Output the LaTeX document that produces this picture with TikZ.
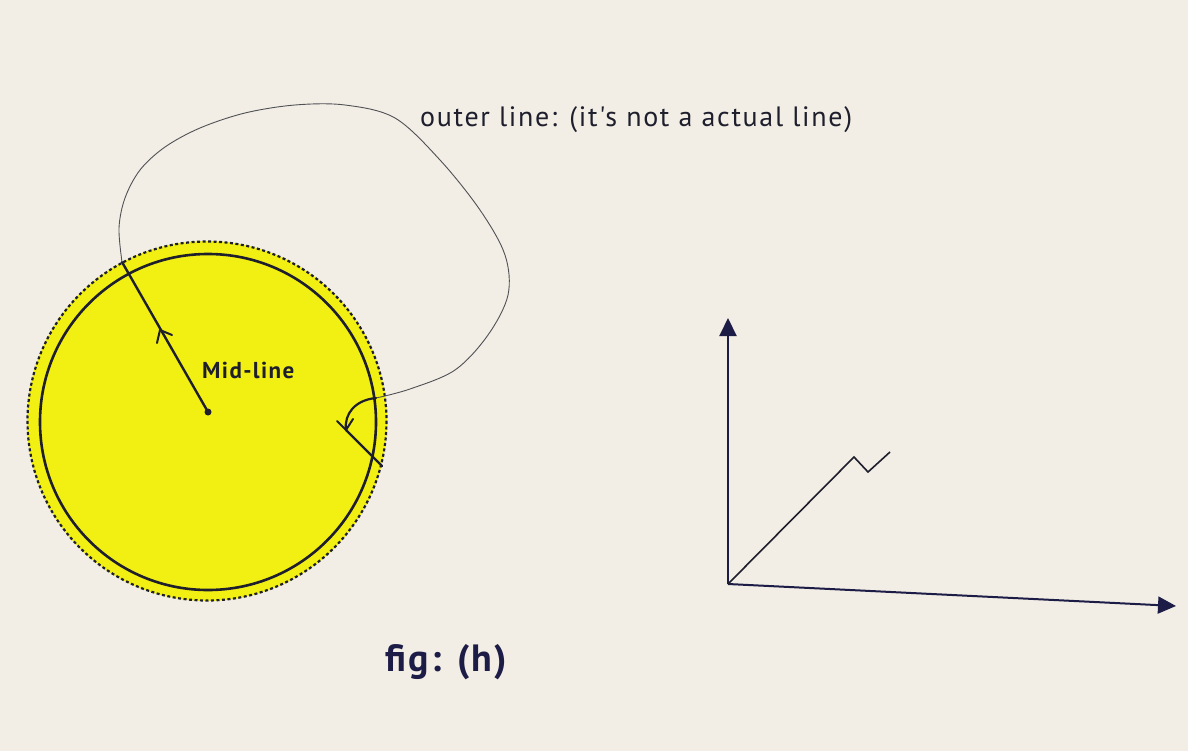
\documentclass[tikz,border=0pt]{standalone}
\usepackage{fontspec}
\setmainfont{Liberation Sans}
\newfontfamily\handfont{PT Sans}
\newfontfamily\handwide[LetterSpace=6]{PT Sans}
\usetikzlibrary{arrows.meta}
\definecolor{paper}{RGB}{242,238,229}
\definecolor{sun}{RGB}{242,240,18}
\definecolor{ink}{RGB}{30,30,45}
\definecolor{navy}{RGB}{28,28,70}
\definecolor{pencil}{RGB}{80,80,85}
\tikzset{
  thinline/.style={draw=pencil, line width=0.9pt},
  thickline/.style={draw=ink, line width=2.4pt, line cap=round, line join=round},
  axisline/.style={draw=navy, line width=2pt, -{Triangle[length=18pt,width=17pt]}},
  graphline/.style={draw=ink, line width=1.6pt, line join=miter},
  barb/.style={draw=ink, line width=2pt, line cap=round, line join=miter},
  lbl/.style={inner sep=0pt, anchor=west}
}
\begin{document}
\begin{tikzpicture}[x=1pt, y=-1pt]
\fill[paper] (0,0) rectangle (1188,751);
\useasboundingbox (0,0) rectangle (1188,751);

% yellow disc with dashed edge
\coordinate (C) at (207,421);
\fill[sun] (C) circle (180);
\draw[ink, line width=2.2pt, dash pattern=on 3pt off 2.5pt] (C) circle (179.5);
\draw[ink, line width=2.6pt] (208,422) circle (168);

% mid-line
\coordinate (M) at (208,412);
\coordinate (P) at (122,262);
\fill[ink] (M) circle (3.5);
\draw[thickline] (M) -- (P);
\coordinate (MA) at (160,330);
\coordinate (MA1) at (172,335);
\coordinate (MA2) at (157,343);
\draw[barb] (MA1) -- (MA) -- (MA2);
\node[lbl, font=\handwide\bfseries\fontsize{23}{23}\selectfont, text=ink] (midlbl) at (202,370) {Mid-line};

% outer loop (thin pencil line)
\coordinate (H1) at (376,398);
\draw[thinline] plot[smooth, tension=0.55] coordinates {
  (P) (119,228) (125,198) (140,170) (165,147) (200,128) (245,113) (295,105)
  (345,105) (395,118) (440,160) (480,210) (505,255) (508,295) (488,335)
  (455,370) (410,389) (H1)};

% hook with arrow
\coordinate (H2) at (346,430);
\coordinate (H3) at (382,466);
\coordinate (HA1) at (353,419);
\coordinate (HA2) at (337,421);
\draw[ink, line width=2.2pt, line cap=round] (H1) .. controls (355,400) and (344,414) .. (H2);
\draw[barb] (HA1) -- (H2) -- (HA2);
\draw[ink, line width=2.2pt, line cap=round] (H2) -- (H3);

% outer line label
\node[lbl, font=\handwide\fontsize{28}{28}\selectfont, text=ink] (outerlbl) at (420,120) {outer line: (it's not a actual line)};

% axes
\coordinate (O) at (728,584);
\coordinate (Ytip) at (728,318);
\coordinate (Xtip) at (1176,606);
\draw[axisline] (O) -- (Ytip);
\draw[axisline] (O) -- (Xtip);
\coordinate (G1) at (854,457);
\coordinate (G2) at (868,472);
\coordinate (G3) at (890,452);
\draw[graphline] (O) -- (G1) -- (G2) -- (G3);

% caption
\node[lbl, font=\handwide\bfseries\fontsize{38}{38}\selectfont, text=navy] (cap) at (385,662) {fig: (h)};
\end{tikzpicture}
\end{document}
